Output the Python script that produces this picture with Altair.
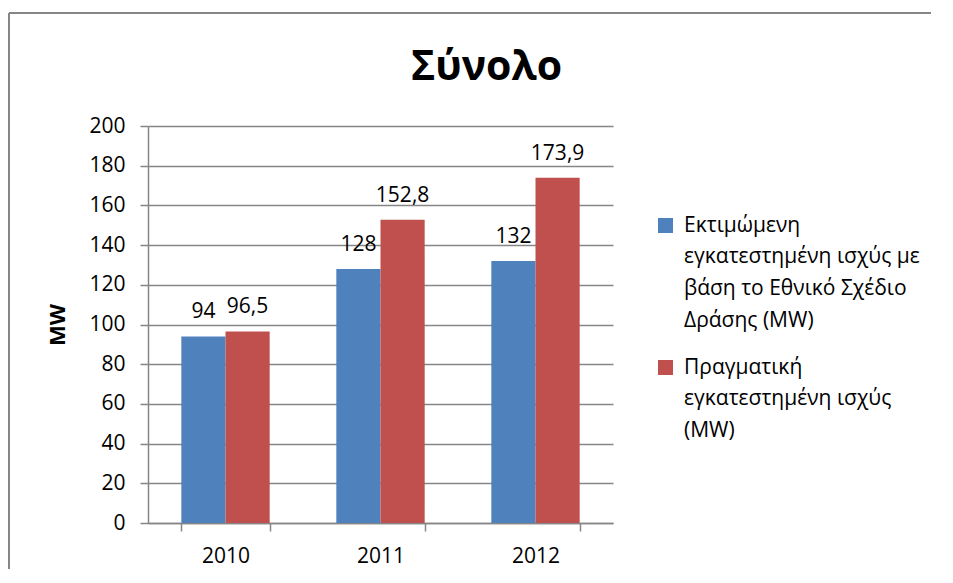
import altair as alt
import pandas as pd

years = ["2010", "2011", "2012"]
series = [
    "Εκτιμώμενη\nεγκατεστημένη ισχύς με\nβάση το Εθνικό Σχέδιο\nΔράσης (MW)",
    "Πραγματική\nεγκατεστημένη ισχύς\n(MW)",
]
estimated = [94, 128, 132]
actual = [96.5, 152.8, 173.9]
colors = ["#4F81BD", "#C0504D"]
y_ticks = [0, 20, 40, 60, 80, 100, 120, 140, 160, 180, 200]

rows = []
for i, yr in enumerate(years):
    rows.append({"year": yr, "series": series[0], "value": estimated[i]})
    rows.append({"year": yr, "series": series[1], "value": actual[i]})
df = pd.DataFrame(rows)

FONT = "Open Sans"
GRAY = "#868686"
LABEL_DY = 6
PAD_RIGHT = 318
PAD_BOTTOM = 46

base = alt.Chart(df).transform_calculate(
    label="replace(toString(datum.value), '.', ',')"
)

x_enc = alt.X(
    "year:N",
    sort=years,
    title=None,
    scale=alt.Scale(paddingInner=0.43, paddingOuter=0.215),
    axis=alt.Axis(
        labelAngle=0,
        tickBand="extent",
        tickSize=8,
        labelPadding=14 - LABEL_DY,
        domainColor=GRAY,
        tickColor=GRAY,
        domainWidth=1.5,
        tickWidth=1.5,
        grid=False,
    ),
)
xoff = alt.XOffset("series:N", sort=series, scale=alt.Scale(paddingInner=0, paddingOuter=0))
y_enc = alt.Y(
    "value:Q",
    scale=alt.Scale(domain=[0, 200], nice=False),
    axis=alt.Axis(
        values=y_ticks,
        labelOverlap=False,
        title="MW",
        titleFontSize=22,
        titleFontWeight="bold",
        titleFont=FONT,
        titlePadding=19,
        tickSize=8,
        labelPadding=15,
        labelOffset=-LABEL_DY,
        domainColor=GRAY,
        tickColor=GRAY,
        gridColor=GRAY,
        domainWidth=1.5,
        tickWidth=1.5,
        gridWidth=1.5,
    ),
)

bars = base.mark_bar().encode(
    x=x_enc,
    xOffset=xoff,
    y=y_enc,
    color=alt.Color(
        "series:N",
        sort=series,
        scale=alt.Scale(domain=series, range=colors),
        legend=alt.Legend(
            orient="none",
            legendX=507,
            legendY=89,
            title=None,
            labelExpr="split(datum.label, '\\n')",
            labelBaseline="alphabetic",
            labelFont=FONT,
            labelFontSize=21,
            labelLimit=400,
            labelOffset=8,
            symbolType="square",
            symbolSize=225,
            symbolStrokeWidth=0,
            symbolOpacity=1,
            rowPadding=25,
        ),
    ),
)

texts = base.mark_text(baseline="alphabetic", dy=-18, fontSize=21, font=FONT, color="black").encode(
    x=x_enc,
    xOffset=xoff,
    y=y_enc,
    text="label:N",
)

frame_df = pd.DataFrame({"f": [0]})
frame_top = alt.Chart(frame_df).mark_rule(color=GRAY, strokeWidth=2).encode(
    x=alt.value(-139), x2=alt.value(465 + PAD_RIGHT), y=alt.value(-113)
)
frame_left = alt.Chart(frame_df).mark_rule(color=GRAY, strokeWidth=2).encode(
    x=alt.value(-139), y=alt.value(-113), y2=alt.value(397 + PAD_BOTTOM)
)

chart = alt.layer(frame_top, frame_left, bars, texts).properties(
    width=465,
    height=397,
    padding={"left": 140, "top": 118, "right": PAD_RIGHT, "bottom": PAD_BOTTOM},
    autosize=alt.AutoSizeParams(type="none"),
    title=alt.TitleParams(
        "Σύνολο",
        font=FONT,
        fontSize=41,
        fontWeight="bold",
        anchor="middle",
        frame="group",
        dx=106,
        dy=43,
        baseline="alphabetic",
        offset=-66,
        color="black",
    ),
).configure(
    background="white",
    style={"guide-label": {"lineHeight": 31.7, "dy": LABEL_DY}},
).configure_view(stroke=None).configure_axis(
    labelFont=FONT, labelFontSize=21, labelColor="black", titleColor="black"
)

chart.save("out.html", embed_options={"renderer": "svg", "actions": False})
